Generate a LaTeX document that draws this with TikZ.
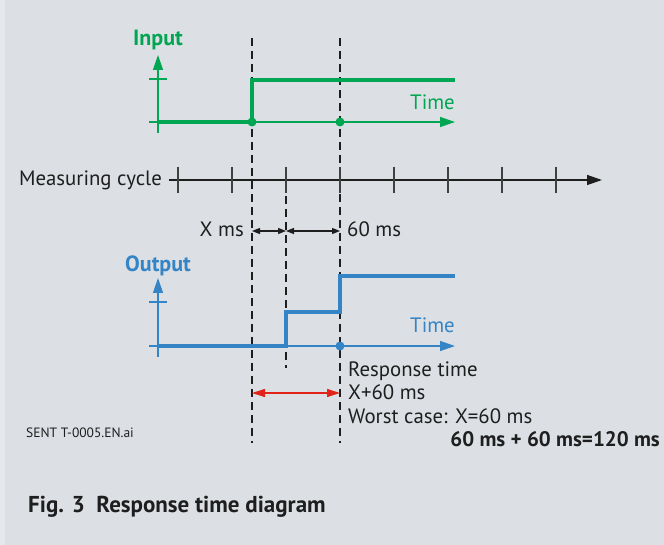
\documentclass[tikz,border=0pt]{standalone}
\usepackage{fontspec}
\setmainfont{PT Sans}
\usetikzlibrary{arrows.meta,positioning}
\definecolor{inGreen}{RGB}{0,166,81}
\definecolor{outBlue}{RGB}{52,132,198}
\definecolor{respRed}{RGB}{226,35,26}
\definecolor{paneGray}{RGB}{220,224,228}
\definecolor{inkGray}{RGB}{30,30,30}

\begin{document}
\begin{tikzpicture}[x=1pt,y=-1pt,
  txt/.style={inner sep=0pt,text=inkGray,font=\fontsize{20.8}{24}\selectfont},
  boldtxt/.style={txt,font=\fontsize{22}{24}\selectfont\bfseries},
  guide/.style={line width=1.1pt,color=inkGray,dash pattern=on 8pt off 5pt},
  axis/.style={line width=1.3pt},
  signal/.style={line width=3.6pt},
  bigtip/.style={-{Triangle[length=15pt,width=10pt]}},
  dimtip/.style={{Triangle[length=8pt,width=6pt]}-{Triangle[length=8pt,width=6pt]}}]
%\draw[help lines,step=50] (0,0) grid (664,545);
\useasboundingbox (0,0) rectangle (664,545);
\fill[paneGray] (0,0) rectangle (664,545);
\fill[white,opacity=0.3] (0,0) rectangle (5,545);

\draw[guide] (252,38) -- (252,443);
\draw[guide] (340,38) -- (340,443);
\draw[guide] (286,196) -- (286,368);

% input
\draw[axis,inGreen,bigtip] (158,133) -- (158,55);
\draw[axis,inGreen] (149,79) -- (167,79);
\draw[axis,inGreen,bigtip] (149,122) -- (455,122);
\draw[signal,inGreen] (158,122) -- (252,122) -- (252,80) -- (455,80);
\fill[inGreen] (252,122) circle (4.5) (340,122) circle (4.5);
\node[boldtxt,anchor=base west,text=inGreen] (input) at (133,46) {Input};
\node[txt,anchor=base east,text=inGreen] (timeIn) at (455,110) {Time};

% measuring cycle
\draw[axis,inkGray,bigtip] (169,180) -- (602,180);
\foreach \x in {178,232,...,556}
  \draw[axis,inkGray!85] (\x,167) -- (\x,193);
\node[txt,anchor=base east] (cycle) at (162,186) {Measuring cycle};

\draw[axis,inkGray,dimtip] (252,231) -- (286,231);
\draw[axis,inkGray,dimtip] (286,231) -- (340,231);
\node[txt,anchor=base east] (xms) at (244,237) {X ms};
\node[txt,anchor=base west] (sixty) at (347,237) {60 ms};

% output
\draw[axis,outBlue,bigtip] (158,357) -- (158,278);
\draw[axis,outBlue] (149,302) -- (167,302);
\draw[axis,outBlue,bigtip] (149,346) -- (455,346);
\draw[signal,outBlue] (158,346) -- (286,346) -- (286,312) -- (340,312) -- (340,276) -- (455,276);
\fill[outBlue] (340,346) circle (4.5);
\node[boldtxt,anchor=base west,text=outBlue] (output) at (125,272) {Output};
\node[txt,anchor=base east,text=outBlue] (timeOut) at (455,333) {Time};

% response time
\draw[line width=1.1pt,respRed,{Triangle[length=13pt,width=8pt]}-{Triangle[length=13pt,width=8pt]}] (252,393) -- (340,393);
\node[txt,anchor=base west] (resp) at (348,376) {Response time};
\node[txt,anchor=base west] (sum) at (348,399) {X+60 ms};
\node[txt,anchor=base west] (worst) at (348,423) {Worst case: X=60 ms};
\node[boldtxt,anchor=base east,font=\fontsize{21}{24}\selectfont\bfseries] (total) at (660,446) {60 ms + 60 ms=120 ms};

\node[txt,anchor=base west,font=\fontsize{13.5}{15}\selectfont] (file) at (26,437) {SENT T-0005.EN.ai};
\node[boldtxt,anchor=base west,font=\fontsize{23}{26}\selectfont\bfseries] (caption) at (28,512) {Fig. 3\ \ Response time diagram};
\end{tikzpicture}
\end{document}
